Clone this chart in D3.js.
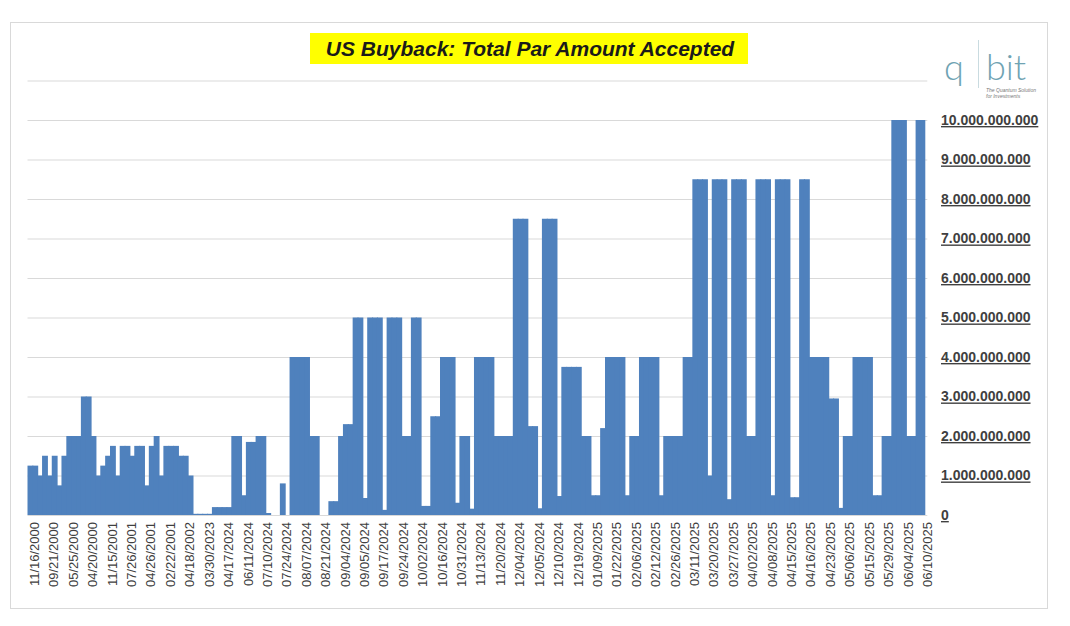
<!DOCTYPE html>
<html>
<head>
<meta charset="utf-8">
<script src="https://cdn.jsdelivr.net/npm/d3@7"></script>
<style>
  body { margin: 0; background: #fff; }
  svg { display: block; font-family: 'Liberation Sans', Arial, sans-serif; }
  .x-axis text { fill: #404040; font-size: 13px; }
  .y-axis text { fill: #404040; font-size: 14px; font-weight: bold; text-decoration: underline; }
  .grid line { stroke: #d9d9d9; }
</style>
</head>
<body>
<svg id="chart" width="1070" height="626"></svg>
<script>
// par amount accepted per operation, in billions of USD
const values = [
  1.25, 1.25, 1.0, 1.5, 1.0, 1.5, 0.75, 1.5, 2.0, 2.0,
  2.0, 3.0, 3.0, 2.0, 1.0, 1.25, 1.5, 1.75, 1.0, 1.75,
  1.75, 1.5, 1.75, 1.75, 0.75, 1.75, 2.0, 1.0, 1.75, 1.75,
  1.75, 1.5, 1.5, 1.0, 0.03, 0.03, 0.03, 0.03, 0.2, 0.2,
  0.2, 0.2, 2.0, 2.0, 0.5, 1.85, 1.85, 2.0, 2.0, 0.05,
  0, 0, 0.8, 0, 4.0, 4.0, 4.0, 4.0, 2.0, 2.0,
  0, 0, 0.35, 0.35, 2.0, 2.3, 2.3, 5.0, 5.0, 0.43,
  5.0, 5.0, 5.0, 0.13, 5.0, 5.0, 5.0, 2.0, 2.0, 5.0,
  5.0, 0.23, 0.23, 2.5, 2.5, 4.0, 4.0, 4.0, 0.31, 2.0,
  2.0, 0.16, 4.0, 4.0, 4.0, 4.0, 2.0, 2.0, 2.0, 2.0,
  7.5, 7.5, 7.5, 2.25, 2.25, 0.17, 7.5, 7.5, 7.5, 0.48,
  3.75, 3.75, 3.75, 3.75, 2.0, 2.0, 0.5, 0.5, 2.2, 4.0,
  4.0, 4.0, 4.0, 0.5, 2.0, 2.0, 4.0, 4.0, 4.0, 4.0,
  0.5, 2.0, 2.0, 2.0, 2.0, 4.0, 4.0, 8.5, 8.5, 8.5,
  1.0, 8.5, 8.5, 8.5, 0.4, 8.5, 8.5, 8.5, 2.0, 2.0,
  8.5, 8.5, 8.5, 0.5, 8.5, 8.5, 8.5, 0.45, 0.45, 8.5,
  8.5, 4.0, 4.0, 4.0, 4.0, 2.95, 2.95, 0.18, 2.0, 2.0,
  4.0, 4.0, 4.0, 4.0, 0.5, 0.5, 2.0, 2.0, 10.0, 10.0,
  10.0, 2.0, 2.0, 10.0, 10.0
]

// only every 4th date is printed on the axis
const tickLabels = [
  '11/16/2000', '09/21/2000', '05/25/2000', '04/20/2000', '11/15/2001',
  '07/26/2001', '04/26/2001', '02/22/2001', '04/18/2002', '03/30/2023',
  '04/17/2024', '06/11/2024', '07/10/2024', '07/24/2024', '08/07/2024',
  '08/21/2024', '09/04/2024', '09/05/2024', '09/17/2024', '09/24/2024',
  '10/02/2024', '10/16/2024', '10/31/2024', '11/13/2024', '11/20/2024',
  '12/04/2024', '12/05/2024', '12/10/2024', '12/19/2024', '01/09/2025',
  '01/22/2025', '02/06/2025', '02/12/2025', '02/26/2025', '03/11/2025',
  '03/20/2025', '03/27/2025', '04/02/2025', '04/08/2025', '04/15/2025',
  '04/16/2025', '04/23/2025', '05/06/2025', '05/15/2025', '05/29/2025',
  '06/04/2025', '06/10/2025'
]
const LABEL_STEP = 4

const yTicks = [0, 1e9, 2e9, 3e9, 4e9, 5e9, 6e9, 7e9, 8e9, 9e9, 10e9]
const yMax = 11e9

const title = 'US Buyback: Total Par Amount Accepted'

const PLOT = {left: 27.5, right: 925.3, top: 80.5, bottom: 515}

let svg = d3.select('#chart')

// outer frame
svg.append('rect')
  .attr('x', 10.5).attr('y', 22.5)
  .attr('width', 1037).attr('height', 586)
  .attr('fill', '#fff')
  .attr('stroke', '#d9d9d9')

let x = d3.scaleBand()
  .domain(d3.range(values.length))
  .range([PLOT.left, PLOT.right])
  .padding(0)

let y = d3.scaleLinear()
  .domain([0, yMax])
  .range([PLOT.bottom, PLOT.top])

// gridlines, one per billion incl. the unlabeled top one
svg.append('g')
  .attr('class', 'grid')
  .attr('transform', 'translate(' + PLOT.left + ',0)')
  .call(d3.axisRight(y).tickValues(yTicks.concat([yMax])).tickSize(PLOT.right - PLOT.left + 2).tickFormat(''))
  .call(g => g.select('.domain').remove())

// bars touch each other, overlap by 1px so no seams show
svg.append('g')
  .selectAll('rect')
  .data(values)
  .enter()
  .append('rect')
  .attr('x', (d, i) => x(i))
  .attr('width', (d, i) => i === values.length - 1 ? x.bandwidth() : x.bandwidth() + 1)
  .attr('y', d => y(d * 1e9))
  .attr('height', d => PLOT.bottom - y(d * 1e9))
  .attr('fill', '#4f81bd')

// y axis on the right, european thousands separator
let fmt = d => d3.format(',')(d).replace(/,/g, '.')
svg.append('g')
  .attr('class', 'y-axis')
  .attr('transform', 'translate(941,0)')
  .call(d3.axisRight(y).tickValues(yTicks).tickSize(0).tickPadding(0).tickFormat(fmt))
  .call(g => g.select('.domain').remove())

let xAxis = d3.axisBottom(x)
  .tickValues(d3.range(0, values.length, LABEL_STEP))
  .tickSize(0)
  .tickFormat(i => tickLabels[i / LABEL_STEP])

svg.append('g')
  .attr('class', 'x-axis')
  .attr('transform', 'translate(0,' + PLOT.bottom + ')')
  .call(xAxis)
  .call(g => g.select('.domain').remove())
  .selectAll('text')
  .attr('transform', 'rotate(-90)')
  .attr('x', -7)
  .attr('y', 4.5)
  .attr('dy', '0.35em')
  .style('text-anchor', 'end')

// title with yellow highlight
svg.append('rect')
  .attr('x', 310).attr('y', 33)
  .attr('width', 438).attr('height', 31)
  .attr('fill', '#ffff00')
svg.append('text')
  .attr('x', 530).attr('y', 56)
  .attr('text-anchor', 'middle')
  .attr('font-size', 21)
  .attr('font-weight', 'bold')
  .attr('font-style', 'italic')
  .attr('fill', '#1a1a1a')
  .text(title)

// q|bit logo
let logo = svg.append('g').attr('fill', '#6fa3b3')
logo.append('text')
  .attr('x', 944).attr('y', 80)
  .attr('font-family', 'Lato, sans-serif')
  .attr('font-weight', 300)
  .attr('font-size', 36)
  .text('q')
logo.append('line')
  .attr('x1', 978.5).attr('x2', 978.5)
  .attr('y1', 40).attr('y2', 88)
  .attr('stroke', '#c9dbe0')
logo.append('text')
  .attr('x', 986).attr('y', 80)
  .attr('font-family', 'Lato, sans-serif')
  .attr('font-weight', 300)
  .attr('font-size', 36)
  .text('bit')
logo.append('text')
  .attr('x', 986).attr('y', 92)
  .attr('font-size', 5)
  .attr('font-style', 'italic')
  .attr('fill', '#777')
  .text('The Quantum Solution')
logo.append('text')
  .attr('x', 986).attr('y', 97.5)
  .attr('font-size', 5)
  .attr('font-style', 'italic')
  .attr('fill', '#777')
  .text('for Investments')
</script>
</body>
</html>
